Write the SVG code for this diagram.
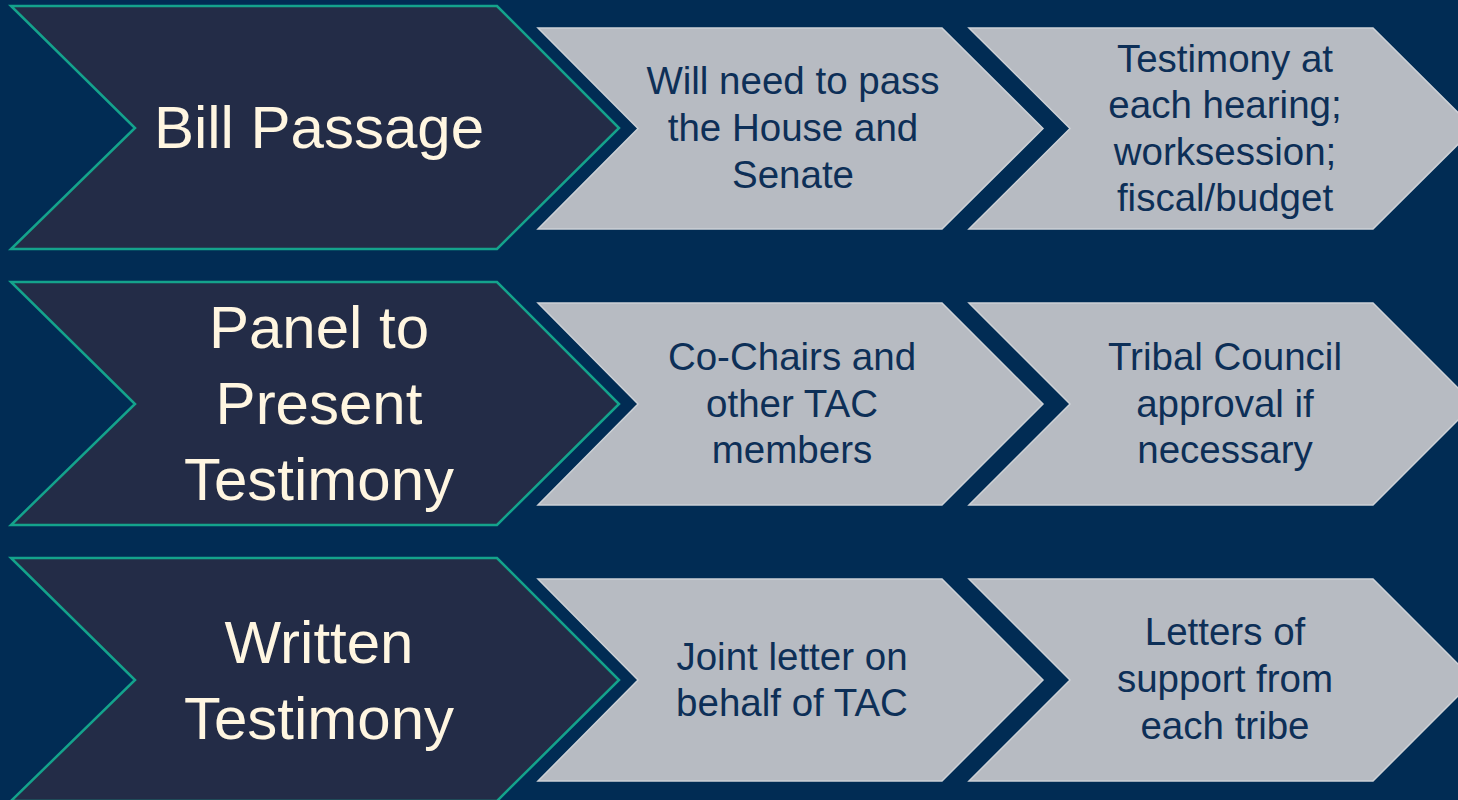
<svg xmlns="http://www.w3.org/2000/svg" width="1458" height="800" viewBox="0 0 1458 800">
<style>
.bg{fill:#012C54}
.dark{fill:#232C47;stroke:#14A38C;stroke-width:2.5;stroke-linejoin:miter}
.gray{fill:#B7BBC2;stroke:#CDD1D6;stroke-width:1.5}
.t{font-family:"Liberation Sans",Arial,sans-serif;fill:#FFF6E1;font-size:60px;text-anchor:middle}
.g{font-family:"Liberation Sans",Arial,sans-serif;fill:#0D2F57;font-size:38.5px;text-anchor:middle}
</style>
<rect class="bg" x="0" y="0" width="1458" height="800"/>
<g id="row1">
  <g id="bill-passage">
    <polygon class="dark" points="11,6 497,6 619,128 497,249 11,249 135,128"/>
    <text class="t" x="319" y="148">Bill Passage</text>
  </g>
  <g id="pass-house-senate">
    <polygon class="gray" points="538,28 942,28 1043,128.5 942,229 538,229 638,128.5"/>
    <text class="g" x="793" y="94">Will need to pass</text>
    <text class="g" x="793" y="141">the House and</text>
    <text class="g" x="793" y="188">Senate</text>
  </g>
  <g id="testimony-hearing">
    <polygon class="gray" points="969,28 1373,28 1474,128.5 1373,229 969,229 1070,128.5"/>
    <text class="g" x="1225" y="72">Testimony at</text>
    <text class="g" x="1225" y="118">each hearing;</text>
    <text class="g" x="1225" y="165">worksession;</text>
    <text class="g" x="1225" y="211">fiscal/budget</text>
  </g>
</g>
<g id="row2">
  <g id="panel-testimony">
    <polygon class="dark" points="11,282 497,282 619,404 497,525 11,525 135,404"/>
    <text class="t" x="319" y="348">Panel to</text>
    <text class="t" x="319" y="424">Present</text>
    <text class="t" x="319" y="500">Testimony</text>
  </g>
  <g id="co-chairs">
    <polygon class="gray" points="538,303 942,303 1043,404 942,505 538,505 638,404"/>
    <text class="g" x="792" y="370">Co-Chairs and</text>
    <text class="g" x="792" y="417">other TAC</text>
    <text class="g" x="792" y="463">members</text>
  </g>
  <g id="tribal-council">
    <polygon class="gray" points="969,303 1373,303 1474,404 1373,505 969,505 1070,404"/>
    <text class="g" x="1225" y="370">Tribal Council</text>
    <text class="g" x="1225" y="417">approval if</text>
    <text class="g" x="1225" y="463">necessary</text>
  </g>
</g>
<g id="row3">
  <g id="written-testimony">
    <polygon class="dark" points="11,558 497,558 619,680 497,801 11,801 135,680"/>
    <text class="t" x="319" y="663">Written</text>
    <text class="t" x="319" y="739">Testimony</text>
  </g>
  <g id="joint-letter">
    <polygon class="gray" points="538,579 942,579 1043,680 942,781 538,781 638,680"/>
    <text class="g" x="792" y="670">Joint letter on</text>
    <text class="g" x="792" y="716">behalf of TAC</text>
  </g>
  <g id="letters-support">
    <polygon class="gray" points="969,579 1373,579 1474,680 1373,781 969,781 1070,680"/>
    <text class="g" x="1225" y="645">Letters of</text>
    <text class="g" x="1225" y="692">support from</text>
    <text class="g" x="1225" y="739">each tribe</text>
  </g>
</g>
<g id="connectors"></g>
</svg>
